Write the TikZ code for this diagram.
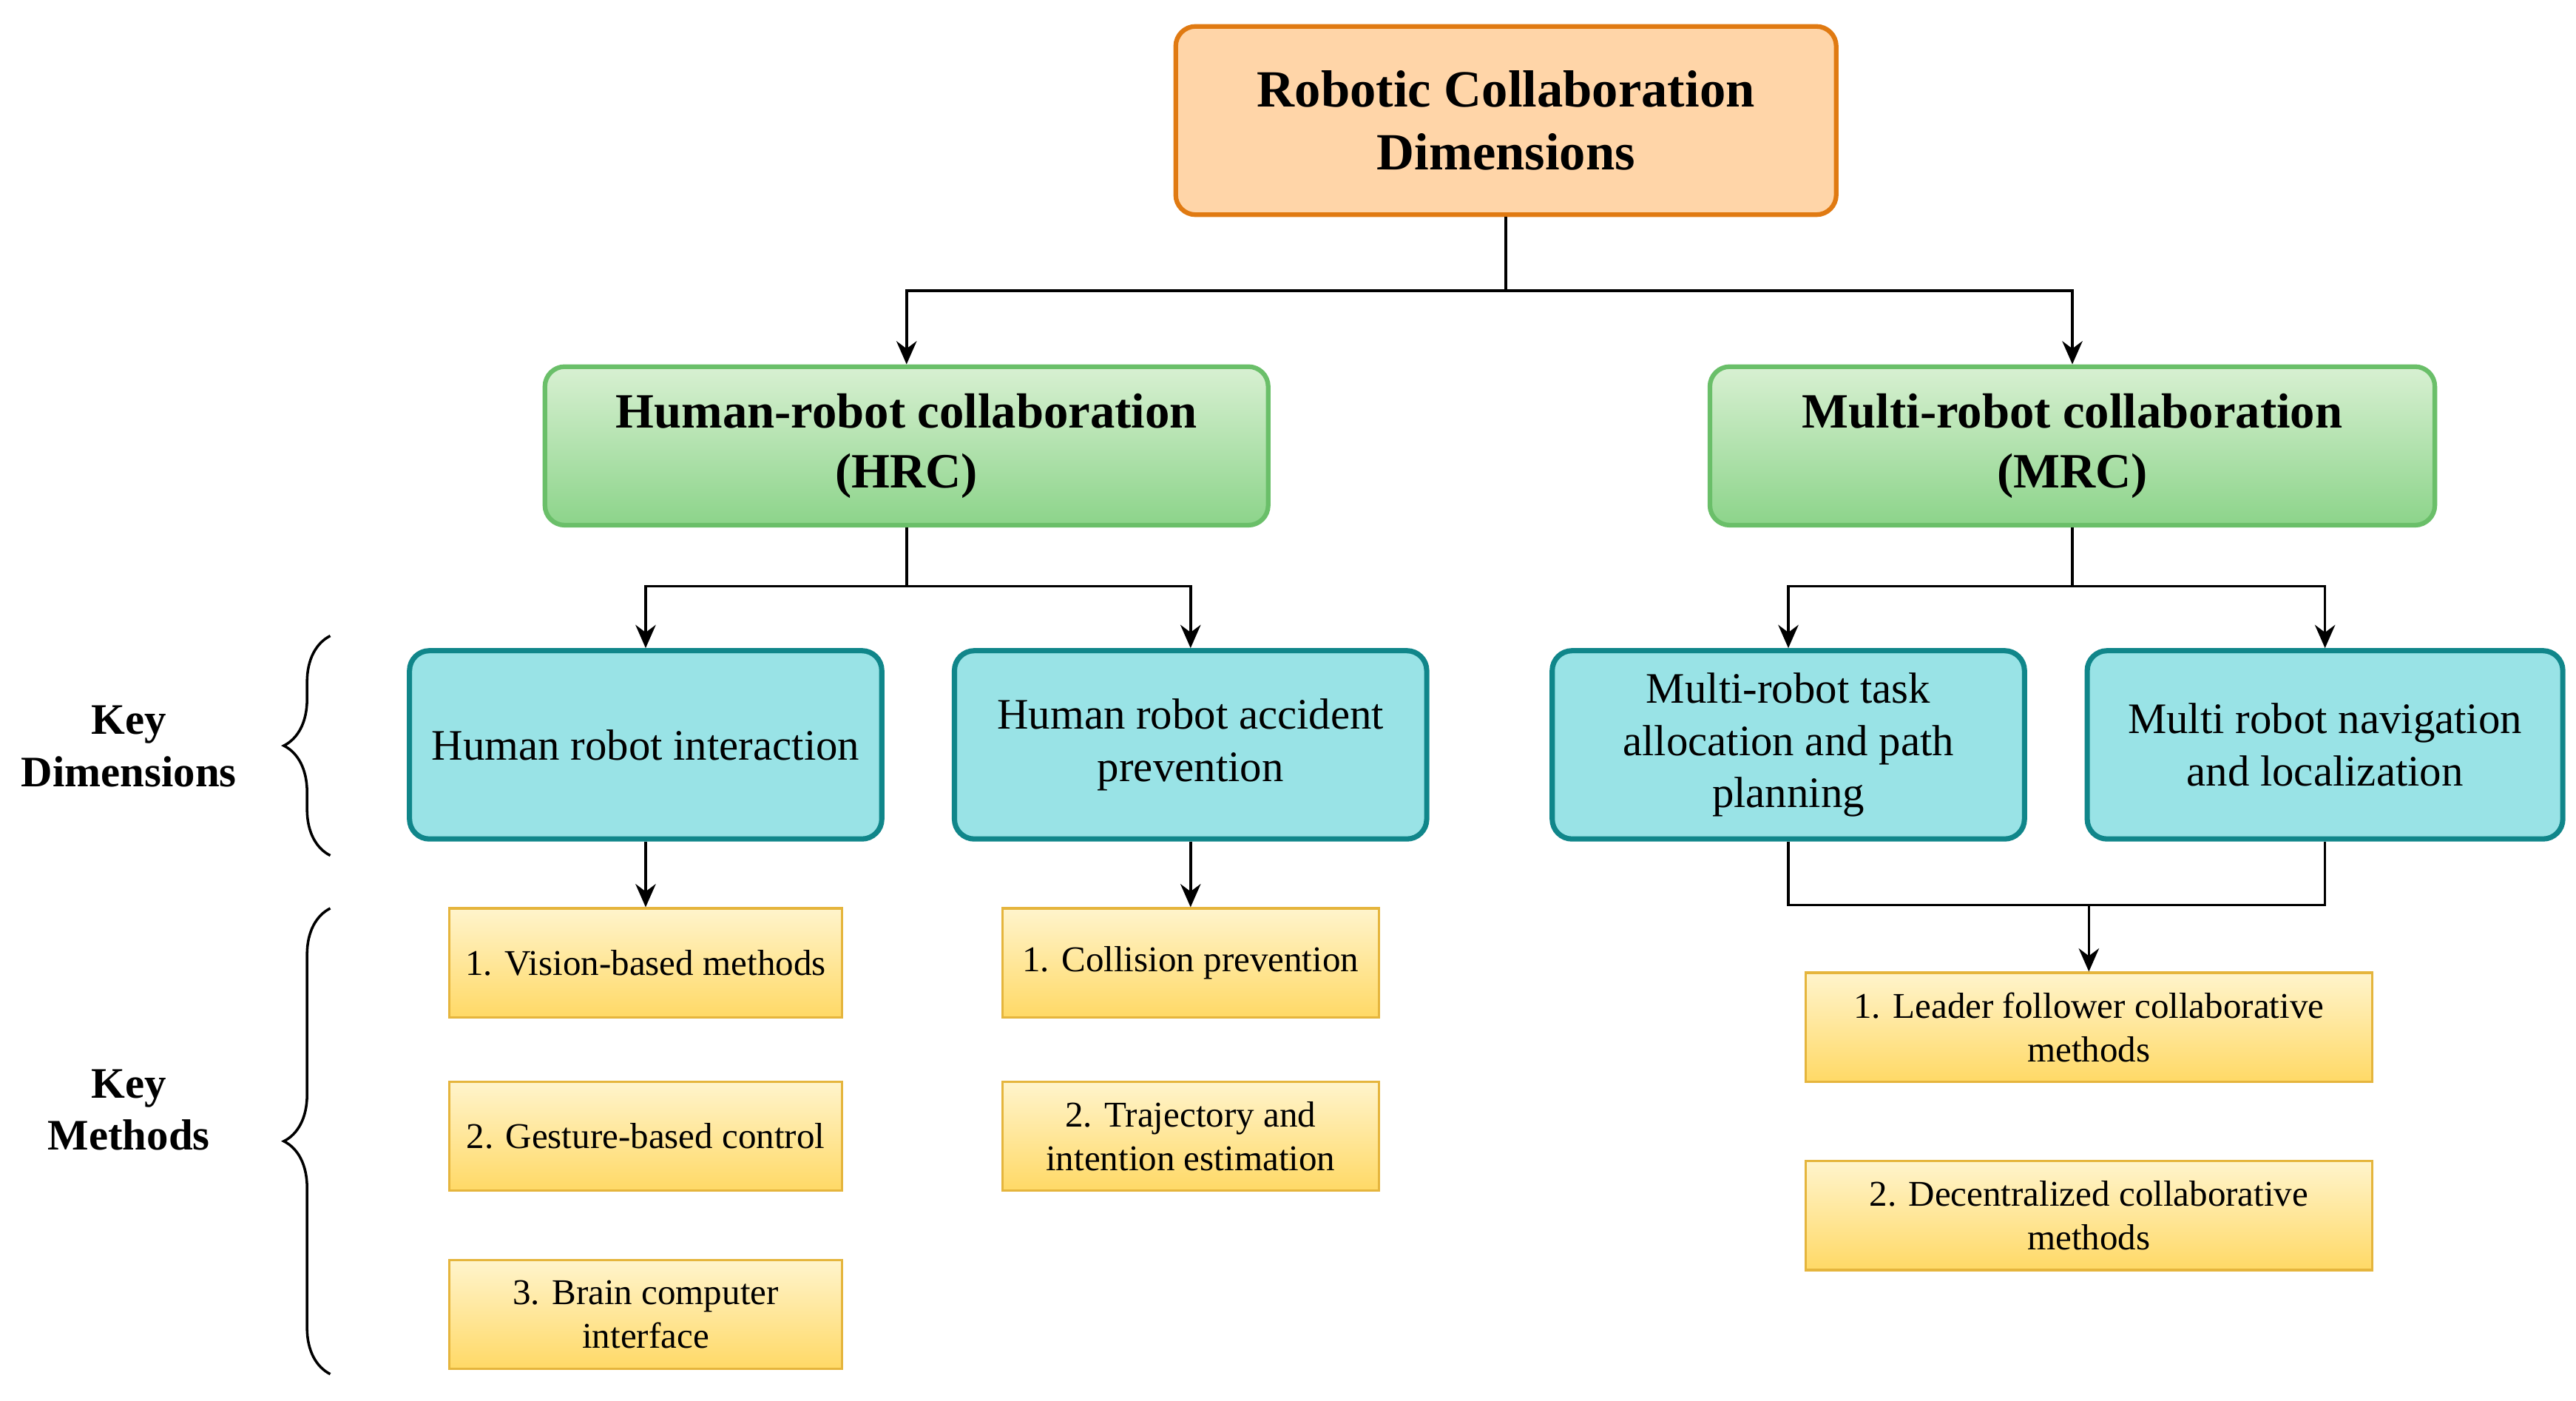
\documentclass[tikz,border=0pt]{standalone}
\usepackage{fontspec}
\setmainfont{Liberation Serif}
\usetikzlibrary{decorations.pathreplacing,arrows.meta}
\definecolor{orfill}{HTML}{FFD5A8}\definecolor{ordraw}{HTML}{E07A12}
\definecolor{grtop}{HTML}{D8F0D2}\definecolor{grbot}{HTML}{8CD48A}\definecolor{grdraw}{HTML}{6ABF69}
\definecolor{cyfill}{HTML}{99E3E6}\definecolor{cydraw}{HTML}{10868A}
\definecolor{yetop}{HTML}{FFF4CC}\definecolor{yebot}{HTML}{FFD966}\definecolor{yedraw}{HTML}{E5B53D}
\begin{document}
\begin{tikzpicture}[x=0.02cm,y=-0.02cm,
 box/.style={rounded corners=0.24cm,align=center,inner sep=2pt},
 top/.style={box,fill=orfill,draw=ordraw,line width=1.6pt,font=\fontsize{18}{21.5}\selectfont\bfseries},
 mid/.style={box,top color=grtop,bottom color=grbot,draw=grdraw,line width=1.6pt,font=\fontsize{17}{20.5}\selectfont\bfseries},
 dim/.style={box,fill=cyfill,draw=cydraw,line width=1.8pt,font=\fontsize{15}{18}\selectfont},
 met/.style={align=center,top color=yetop,bottom color=yebot,draw=yedraw,line width=0.8pt,font=\fontsize{12.5}{15}\selectfont,inner sep=2pt},
 arr/.style={-{Stealth[length=8pt,width=7pt]},line width=0.9pt},
 ln/.style={line width=0.9pt},
 lab/.style={align=center,font=\fontsize{15}{18}\selectfont\bfseries}]
\useasboundingbox (0,0) rectangle (1560,848);
\node[top,minimum width={400*0.02cm},minimum height={114*0.02cm}] (t) at (912,73) {Robotic Collaboration\\Dimensions};
\node[mid,minimum width={438*0.02cm},minimum height={96*0.02cm}] (hrc) at (549,270) {Human-robot collaboration\\(HRC)};
\node[mid,minimum width={439*0.02cm},minimum height={96*0.02cm}] (mrc) at (1255,270) {Multi-robot collaboration\\(MRC)};
\node[dim,minimum width={286*0.02cm},minimum height={114*0.02cm}] (d1) at (391,451) {Human robot interaction};
\node[dim,minimum width={286*0.02cm},minimum height={114*0.02cm}] (d2) at (721,451) {Human robot accident\\prevention};
\node[dim,minimum width={286*0.02cm},minimum height={114*0.02cm}] (d3) at (1083,451) {Multi-robot task\\allocation and path\\planning};
\node[dim,minimum width={288*0.02cm},minimum height={114*0.02cm}] (d4) at (1408,451) {Multi robot navigation\\and localization};
\node[met,minimum width={238*0.02cm},minimum height={66*0.02cm}] (m1) at (391,583) {1. Vision-based methods};
\node[met,minimum width={238*0.02cm},minimum height={66*0.02cm}] (m2) at (391,688) {2. Gesture-based control};
\node[met,minimum width={238*0.02cm},minimum height={66*0.02cm}] (m3) at (391,796) {3. Brain computer\\interface};
\node[met,minimum width={228*0.02cm},minimum height={66*0.02cm}] (m4) at (721,583) {1. Collision prevention};
\node[met,minimum width={228*0.02cm},minimum height={66*0.02cm}] (m5) at (721,688) {2. Trajectory and\\intention estimation};
\node[met,minimum width={343*0.02cm},minimum height={66*0.02cm}] (m6) at (1265,622) {1. Leader follower collaborative\\methods};
\node[met,minimum width={343*0.02cm},minimum height={66*0.02cm}] (m7) at (1265,736) {2. Decentralized collaborative\\methods};
\node[lab] (k1) at (78,452) {Key\\Dimensions};
\node[lab] (k2) at (78,672) {Key\\Methods};
\coordinate (j1) at (912,176);
\coordinate (j2) at (549,355);
\coordinate (j3) at (1255,355);
\coordinate (j4) at (1265,548);
\draw[ln] (t.south) -- (j1);
\draw[arr] (j1) -| (hrc.north);
\draw[arr] (j1) -| (mrc.north);
\draw[ln] (hrc.south) -- (j2);
\draw[arr] (j2) -| (d1.north);
\draw[arr] (j2) -| (d2.north);
\draw[ln] (mrc.south) -- (j3);
\draw[arr] (j3) -| (d3.north);
\draw[arr] (j3) -| (d4.north);
\draw[arr] (d1.south) -- (m1.north);
\draw[arr] (d2.south) -- (m4.north);
\draw[ln] (d3.south) |- (j4) -| (d4.south);
\draw[arr] (j4) -- (m6.north);
\draw[ln,decorate,decoration={brace,amplitude=16pt}] (200,518) -- (200,385);
\draw[ln,decorate,decoration={brace,amplitude=16pt}] (200,832) -- (200,550);
\end{tikzpicture}
\end{document}
